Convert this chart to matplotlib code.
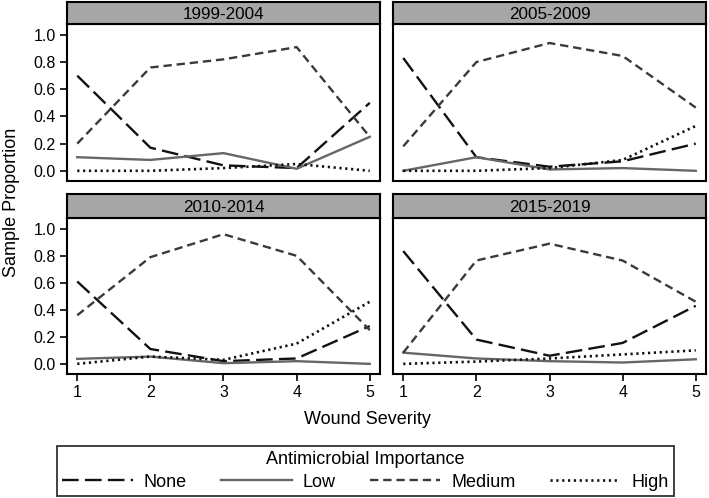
import numpy as np
import matplotlib
matplotlib.use('Agg')
import matplotlib.pyplot as plt

plt.rcParams['font.family'] = ['Liberation Sans', 'DejaVu Sans']
plt.rcParams['lines.scale_dashes'] = False

severity = [1, 2, 3, 4, 5]
periods = ['1999-2004', '2005-2009', '2010-2014', '2015-2019']
importance = ['None', 'Low', 'Medium', 'High']

none_vals = [[0.70, 0.17, 0.04, 0.02, 0.50],
             [0.83, 0.10, 0.03, 0.07, 0.20],
             [0.61, 0.11, 0.02, 0.04, 0.28],
             [0.835, 0.18, 0.06, 0.155, 0.43]]
low_vals = [[0.10, 0.08, 0.13, 0.015, 0.25],
            [0.00, 0.10, 0.01, 0.02, 0.00],
            [0.037, 0.054, 0.005, 0.02, 0.00],
            [0.083, 0.04, 0.02, 0.01, 0.034]]
medium_vals = [[0.20, 0.76, 0.82, 0.91, 0.25],
               [0.18, 0.80, 0.94, 0.845, 0.465],
               [0.36, 0.79, 0.96, 0.80, 0.25],
               [0.083, 0.765, 0.89, 0.765, 0.46]]
high_vals = [[0.00, 0.00, 0.02, 0.05, 0.00],
             [0.00, 0.00, 0.02, 0.08, 0.33],
             [0.00, 0.054, 0.03, 0.15, 0.46],
             [0.00, 0.017, 0.04, 0.07, 0.10]]

series = [none_vals, low_vals, medium_vals, high_vals]
styles = [dict(color='#111111', lw=1.7, dashes=(12, 4.5)),
          dict(color='#666666', lw=1.7, linestyle='-'),
          dict(color='#3a3a3a', lw=1.7, dashes=(6, 3.5)),
          dict(color='#111111', lw=1.9, dashes=(1.6, 2.6))]

W, H = 709, 498
fig = plt.figure(figsize=(W / 100, H / 100), dpi=100)

lefts = [67, 393]
axw = 313
tops = [(2, 24, 181), (194, 218, 374)]  # strip top, axes top, axes bottom

for i, period in enumerate(periods):
    r, c = divmod(i, 2)
    st, at, ab = tops[r]
    x0 = lefts[c]
    ax = fig.add_axes([x0 / W, 1 - ab / H, axw / W, (ab - at) / H])
    sax = fig.add_axes([x0 / W, 1 - at / H, axw / W, (at - st) / H])
    sax.set_facecolor('#a6a6a6')
    sax.set_xticks([]), sax.set_yticks([])
    for sp in sax.spines.values():
        sp.set_linewidth(1.5)
    sax.text(0.5, 0.45, period, ha='center', va='center', fontsize=12.3,
             transform=sax.transAxes)

    for vals, name, st_ in zip(series, importance, styles):
        ax.plot(severity, vals[i], label=name, **st_)

    ax.set_xlim(0.86, 5.14)
    ax.set_ylim(-0.075, 1.08)
    for sp in ax.spines.values():
        sp.set_linewidth(1.5)
    ax.set_xticks(severity)
    ax.set_yticks([0.0, 0.2, 0.4, 0.6, 0.8, 1.0])
    ax.set_yticklabels(['%.1f' % v for v in [0.0, 0.2, 0.4, 0.6, 0.8, 1.0]])
    ax.tick_params(labelsize=11.5, width=1.2, length=5, pad=3)
    if r == 0:
        ax.tick_params(axis='x', bottom=False, labelbottom=False)
    if c == 1:
        ax.tick_params(axis='y', left=False, labelleft=False)

fig.text(12 / W, 1 - 202 / H, 'Sample Proportion', rotation=90,
         ha='center', va='center', fontsize=13)
fig.text(367 / W, 1 - 419 / H, 'Wound Severity', ha='center', va='center',
         fontsize=13)

handles, labels = ax.get_legend_handles_labels()
leg = fig.legend(handles, labels, ncol=4, title='Antimicrobial Importance',
                 loc='lower left', mode='expand',
                 bbox_to_anchor=(57 / W, 2 / H, (674 - 57) / W, 60 / H),
                 fontsize=13, title_fontsize=13, handlelength=3.9,
                 handletextpad=0.6, fancybox=False, borderaxespad=0,
                 frameon=True, borderpad=0.3, labelspacing=0.3)
leg.get_frame().set_edgecolor('black')
leg.get_frame().set_linewidth(1.3)

fig.savefig('out.png', dpi=100)
